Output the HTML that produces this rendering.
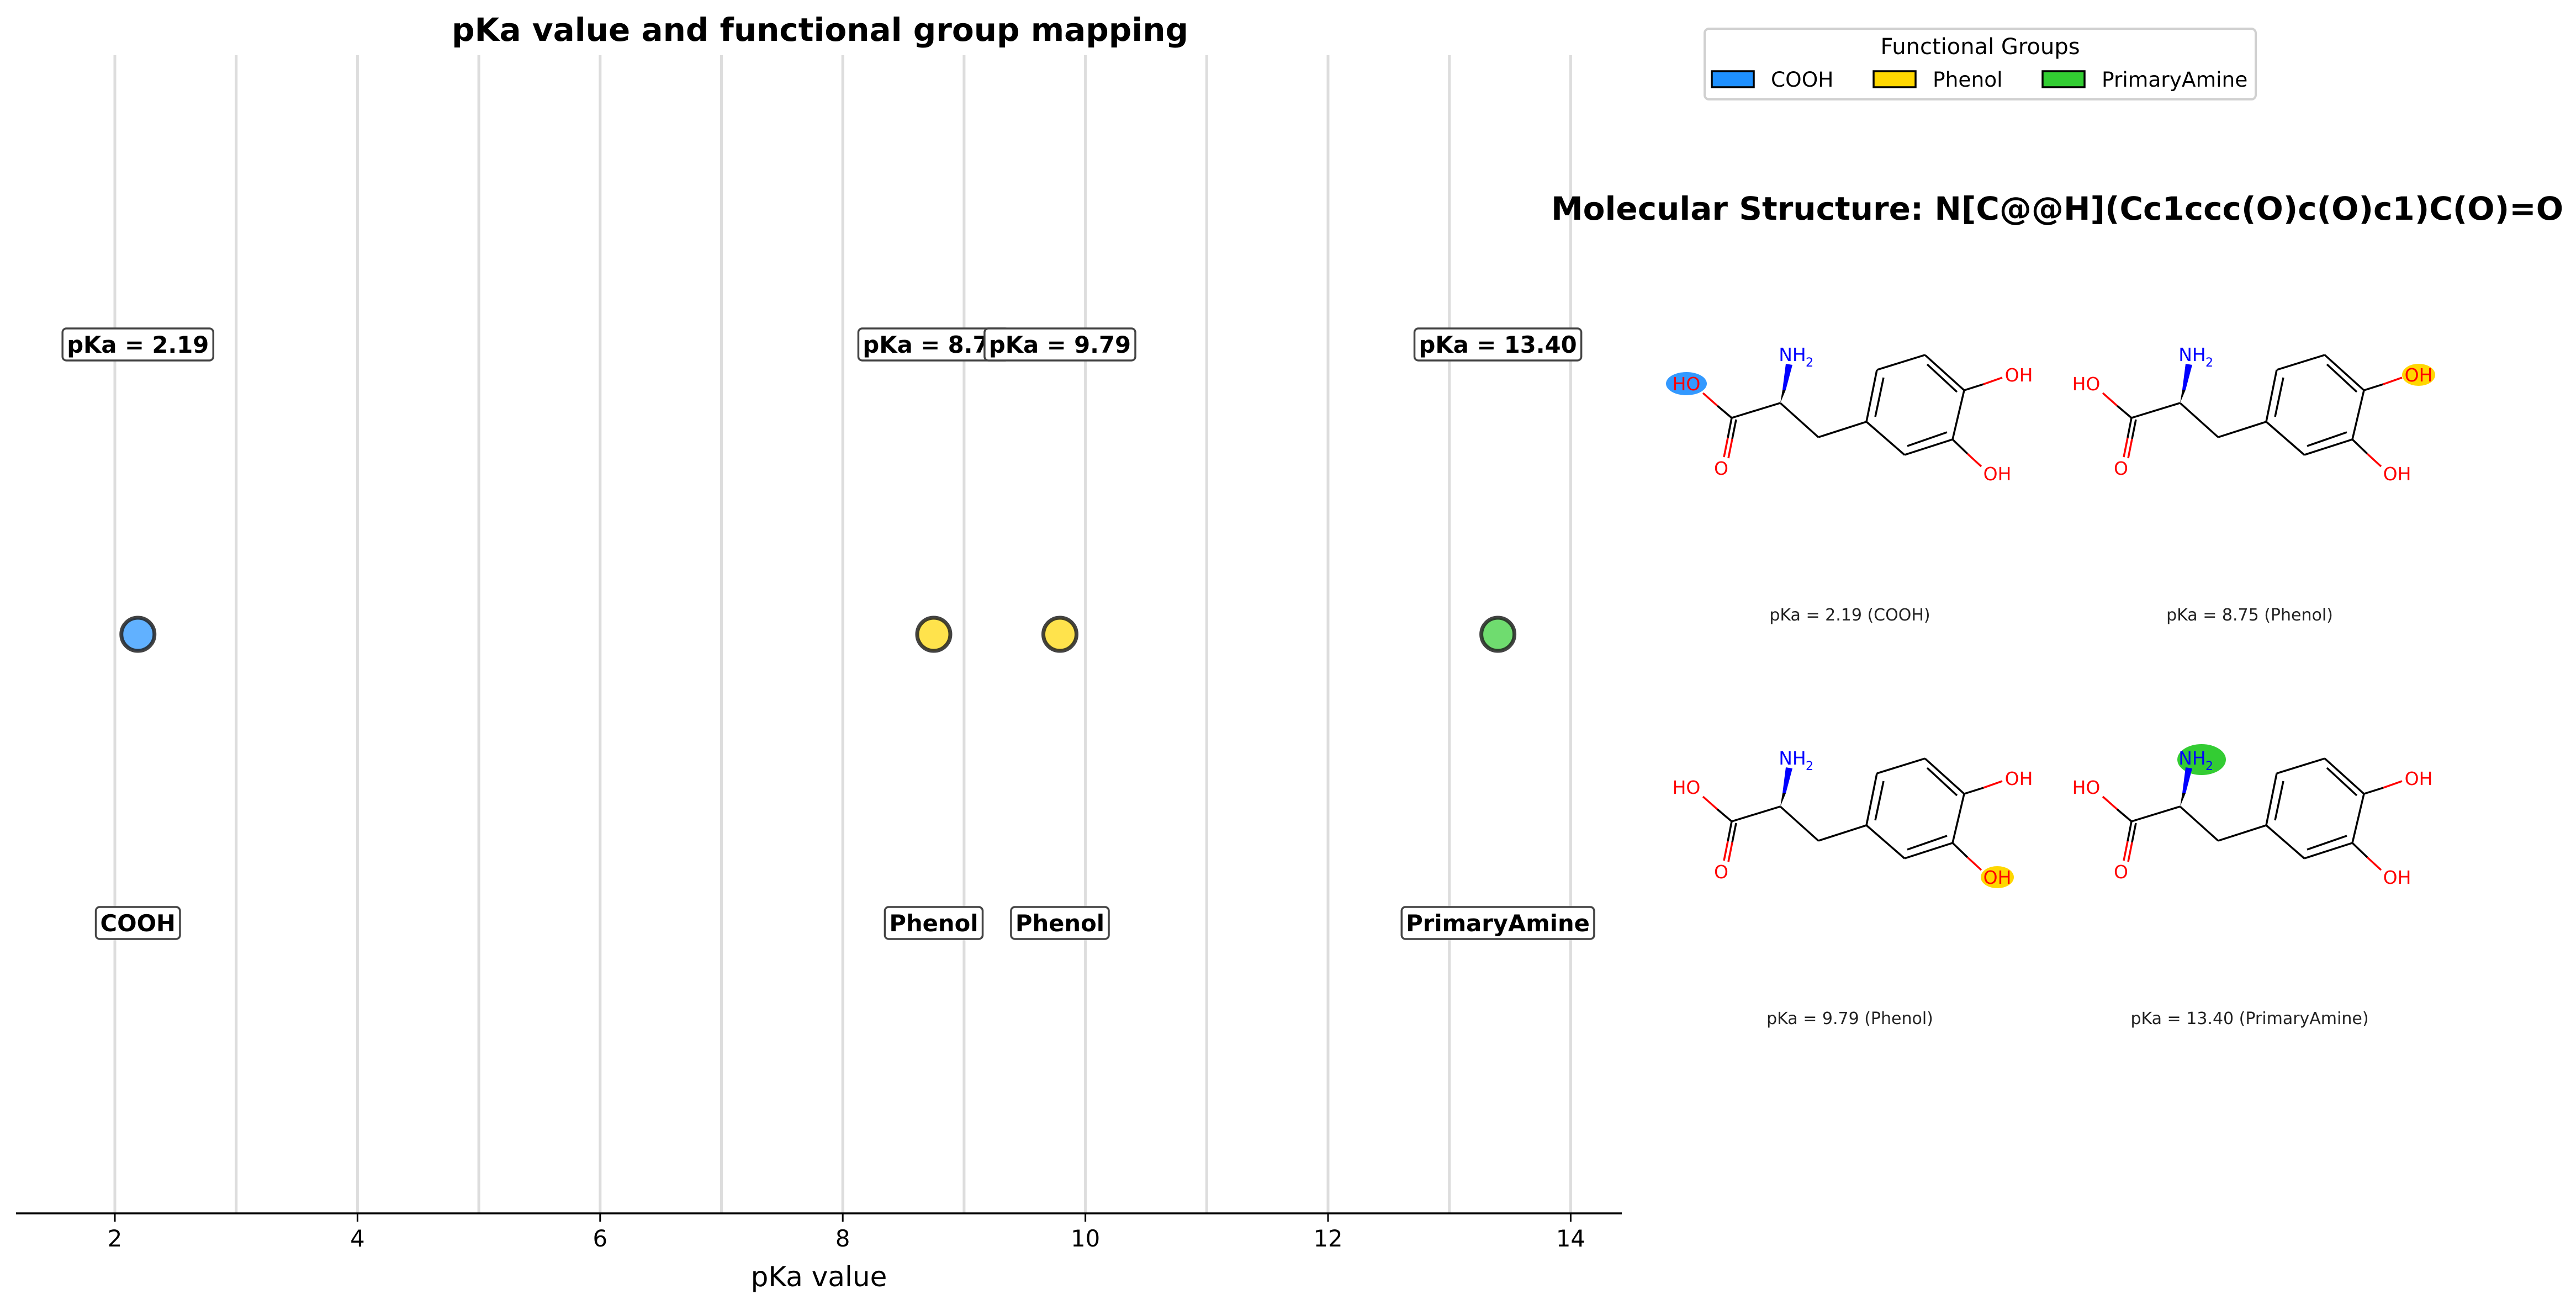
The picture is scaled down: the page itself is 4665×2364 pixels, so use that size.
<!DOCTYPE html>
<html><head><meta charset="utf-8"><style>
html,body{margin:0;padding:0;background:#fff;}
svg{display:block;font-family:"DejaVu Sans","Liberation Sans",sans-serif;}
</style></head><body>
<svg id="chart" width="4665" height="2364" viewBox="0 0 4665 2364" xmlns="http://www.w3.org/2000/svg">
<g id="left"></g>
<g id="right"></g>
</svg>
<script>
const groups = ["COOH", "Phenol", "Phenol", "PrimaryAmine"];
const pkaValues = [2.19, 8.75, 9.79, 13.40];
const pkaLabels = ["pKa = 2.19", "pKa = 8.75", "pKa = 9.79", "pKa = 13.40"];
const tickValues = [2, 4, 6, 8, 10, 12, 14];
const gridValues = [2, 3, 4, 5, 6, 7, 8, 9, 10, 11, 12, 13, 14];
const legendNames = ["COOH", "Phenol", "PrimaryAmine"];
const captions = ["pKa = 2.19 (COOH)", "pKa = 8.75 (Phenol)", "pKa = 9.79 (Phenol)", "pKa = 13.40 (PrimaryAmine)"];

const NS = "http://www.w3.org/2000/svg";
const colors = {COOH:"#1e90ff", Phenol:"#ffd700", PrimaryAmine:"#32cd32"};
function x(v){ return 208 + 219.7*(v-2); }
function mk(parent, tag, attrs, text){
  const e = document.createElementNS(NS, tag);
  for (const k in attrs) e.setAttribute(k, attrs[k]);
  if (text !== undefined) e.textContent = text;
  parent.appendChild(e); return e;
}
const L = document.getElementById('left');
const R = document.getElementById('right');

gridValues.forEach(v=>{
  const g = mk(L,'line',{x1:x(v),x2:x(v),y1:100,y2:2198,stroke:'#dddddd','stroke-width':5});
  
  
});
const ax = mk(L,'line',{x1:29,x2:2937,y1:2198,y2:2198,stroke:'#000','stroke-width':3.5});


tickValues.forEach(v=>{
  const t = mk(L,'line',{x1:x(v),x2:x(v),y1:2198,y2:2213,stroke:'#000','stroke-width':3});
  
  
  const tl = mk(L,'text',{x:x(v),y:2258,'font-size':41.7,'text-anchor':'middle'},String(v));
  
  
});
const xl = mk(L,'text',{x:1483,y:2330,'font-size':50,'text-anchor':'middle'},'pKa value');


const tt = mk(L,'text',{x:1485,y:74,'font-size':58,'font-weight':'bold','text-anchor':'middle'},'pKa value and functional group mapping');



function boxLabel(cx, cy, txt, name){
  const g = mk(L,'g',{});
  
  
  const r = mk(g,'rect',{fill:'#fff',stroke:'#444','stroke-width':3.5,rx:7});
  const t = mk(g,'text',{x:cx,y:cy+15,'font-size':41.7,'font-weight':'bold','text-anchor':'middle'},txt);
  const b = t.getBBox();
  r.setAttribute('x', b.x-8); r.setAttribute('y', cy-29);
  r.setAttribute('width', b.width+16); r.setAttribute('height', 58);
}
pkaValues.forEach((v,i)=>{
  boxLabel(x(v), 624, pkaLabels[i], 'pka-value-label');
});
pkaValues.forEach((v,i)=>{
  const c = mk(L,'circle',{cx:x(v),cy:1149,r:30,fill:colors[groups[i]],'fill-opacity':0.7,stroke:'#222','stroke-opacity':0.85,'stroke-width':7});
  
  
});
pkaValues.forEach((v,i)=>{
  boxLabel(x(v), 1672, groups[i], 'group-label');
});

const lg = mk(R,'g',{});


mk(lg,'rect',{x:3087,y:52,width:998,height:128,rx:8,fill:'#fff',stroke:'#d0d0d0','stroke-width':4});
mk(lg,'text',{x:3586,y:98,'font-size':40,'text-anchor':'middle'},'Functional Groups');
const lgx = [3100, 3393, 3699];
legendNames.forEach((n,i)=>{
  const e = mk(lg,'g',{});
  
  
  mk(e,'rect',{x:lgx[i],y:129,width:76,height:29,fill:colors[n],stroke:'#000','stroke-width':3.5});
  mk(e,'text',{x:lgx[i]+107,y:157,'font-size':37.5},n);
});
const mt = mk(R,'text',{x:4642,y:398,'font-size':58,'font-weight':'bold','text-anchor':'end'},'Molecular Structure: N[C@@H](Cc1ccc(O)c(O)c1)C(O)=O');



const offs = [[2990,560],[3714,560],[2990,1291],[3714,1291]];
const hl = [
  {cx:64,cy:135,rx:37,ry:21,c:'#3399ff'},
  {cx:666,cy:119,rx:30,ry:20,c:'#ffd700'},
  {cx:627,cy:298,rx:30,ry:20,c:'#ffd700'},
  {cx:273,cy:85,rx:44,ry:28,c:'#33cc33'}
];
offs.forEach((o,i)=>{
  const g = mk(R,'g',{transform:`translate(${o[0]},${o[1]})`});
  
  
  const h = hl[i];
  mk(g,'ellipse',{cx:h.cx,cy:h.cy,rx:h.rx,ry:h.ry,fill:h.c});
  const K='#000', Rd='#ff0000', sw=3.5;
  const ln=(a,b,c,d,col)=>mk(g,'line',{x1:a,y1:b,x2:c,y2:d,stroke:col,'stroke-width':sw});
  ln(94,152,120,175,Rd); ln(120,175,146,197,K);
  ln(146,197,139,233,K); ln(139,233,132,268,Rd);
  ln(154,200,147,235,K); ln(147,235,140,270,Rd);
  ln(146,197,234,170,K);
  mk(g,'polygon',{points:'234,170 238,146 244,146',fill:K});
  mk(g,'polygon',{points:'238,146 244,146 256,101 244,99',fill:'#0000ff'});
  ln(234,170,303,232,K); ln(303,232,390,204,K);
  ln(390,204,409,110,K); ln(409,110,496,83,K); ln(496,83,567,147,K);
  ln(567,147,546,236,K); ln(546,236,459,264,K); ln(459,264,390,204,K);
  ln(406,195,421,124,K); ln(500,100,554,150,K); ln(464,248,536,223,K);
  ln(567,147,602,136,K); ln(602,136,636,124,Rd);
  ln(546,236,573,262,K); ln(573,262,598,285,Rd);
  const tx=(X,Y,s,col,fs)=>mk(g,'text',{x:X,y:Y,'font-size':fs||33,fill:col,'text-anchor':'middle'},s);
  tx(64,147,'HO',Rd); tx(127,300,'O',Rd); tx(666,131,'OH',Rd); tx(627,310,'OH',Rd);
  tx(256,94,'NH','#0000ff'); tx(287,104,'2','#0000ff',22);
  const cp = mk(g,'text',{x:360,y:564,'font-size':30,fill:'#222','text-anchor':'middle'},captions[i]);
  
  
});
</script>
</body></html>
